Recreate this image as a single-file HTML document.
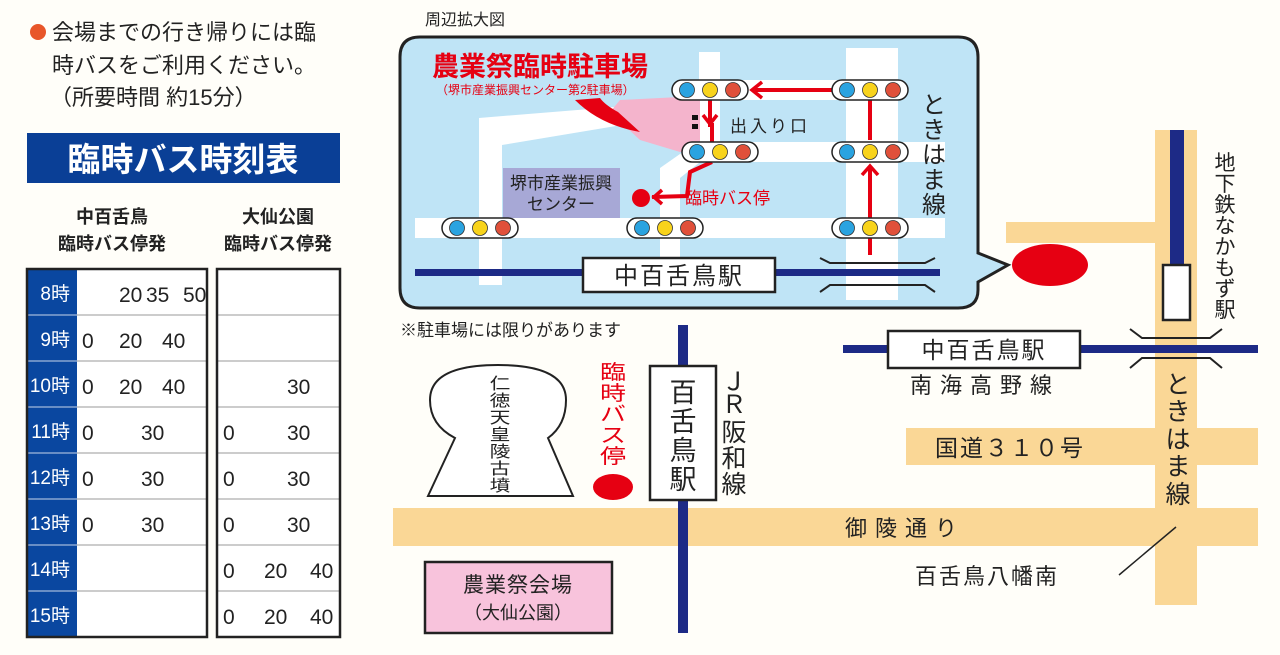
<!DOCTYPE html>
<html><head><meta charset="utf-8"><style>
html,body{margin:0;padding:0;background:#fffef9;}
svg{display:block;font-family:"Liberation Sans","Noto Sans CJK JP",sans-serif;}
</style></head><body>
<svg width="1280" height="655" viewBox="0 0 1280 655" xmlns="http://www.w3.org/2000/svg">
<defs>
<g id="tl">
<rect x="-38" y="-10" width="76" height="20" rx="10" fill="#fff" stroke="#222" stroke-width="1.5"/>
<circle cx="-23" cy="0" r="7.5" fill="#2aa3e0" stroke="#333" stroke-width="0.8"/>
<circle cx="0" cy="0" r="7.5" fill="#f8d31c" stroke="#333" stroke-width="0.8"/>
<circle cx="23" cy="0" r="7.5" fill="#e0503a" stroke="#333" stroke-width="0.8"/>
</g>
</defs>
<rect width="1280" height="655" fill="#fffef9"/>

<circle cx="38" cy="32" r="8" fill="#e8562a"/>
<g font-size="22" fill="#222">
<text x="52" y="40">会場までの行き帰りには臨</text>
<text x="52" y="73">時バスをご利用ください。</text>
<text x="50" y="105">（所要時間 約15分）</text>
</g>
<rect x="27" y="133" width="313" height="50" fill="#0a3f96"/>
<text x="183" y="171" font-size="33" font-weight="bold" fill="#fff" text-anchor="middle">臨時バス時刻表</text>
<g font-size="18" fill="#222" text-anchor="middle" font-weight="bold">
<text x="112" y="223">中百舌鳥</text>
<text x="112" y="250">臨時バス停発</text>
<text x="278" y="223">大仙公園</text>
<text x="278" y="250">臨時バス停発</text>
</g>
<rect x="27" y="269" width="50" height="368" fill="#0a47a0"/>
<rect x="77" y="269" width="130" height="368" fill="#fff"/>
<rect x="217" y="269" width="123" height="368" fill="#fff"/>
<g stroke="#999" stroke-width="1">
<line x1="77" y1="315" x2="207" y2="315"/><line x1="77" y1="361" x2="207" y2="361"/><line x1="77" y1="407" x2="207" y2="407"/><line x1="77" y1="453" x2="207" y2="453"/><line x1="77" y1="499" x2="207" y2="499"/><line x1="77" y1="545" x2="207" y2="545"/><line x1="77" y1="591" x2="207" y2="591"/>
<line x1="217" y1="315" x2="340" y2="315"/><line x1="217" y1="361" x2="340" y2="361"/><line x1="217" y1="407" x2="340" y2="407"/><line x1="217" y1="453" x2="340" y2="453"/><line x1="217" y1="499" x2="340" y2="499"/><line x1="217" y1="545" x2="340" y2="545"/><line x1="217" y1="591" x2="340" y2="591"/>
</g>
<g stroke="#c8d4ea" stroke-width="1">
<line x1="27" y1="315" x2="77" y2="315"/><line x1="27" y1="361" x2="77" y2="361"/><line x1="27" y1="407" x2="77" y2="407"/><line x1="27" y1="453" x2="77" y2="453"/><line x1="27" y1="499" x2="77" y2="499"/><line x1="27" y1="545" x2="77" y2="545"/><line x1="27" y1="591" x2="77" y2="591"/>
</g>
<rect x="27" y="269" width="180" height="368" fill="none" stroke="#222" stroke-width="2.5"/>
<rect x="217" y="269" width="123" height="368" fill="none" stroke="#222" stroke-width="2.5"/>
<g font-size="19" fill="#fff" text-anchor="end">
<text x="70" y="300">8時</text><text x="70" y="346">9時</text><text x="70" y="392">10時</text><text x="70" y="438">11時</text><text x="70" y="484">12時</text><text x="70" y="530">13時</text><text x="70" y="576">14時</text><text x="70" y="622">15時</text>
</g>
<g font-size="21" fill="#222">
<text x="119" y="302">20</text><text x="146" y="302">35</text><text x="183" y="302">50</text>
<text x="82" y="348">0</text><text x="119" y="348">20</text><text x="162" y="348">40</text>
<text x="82" y="394">0</text><text x="119" y="394">20</text><text x="162" y="394">40</text>
<text x="82" y="440">0</text><text x="141" y="440">30</text>
<text x="82" y="486">0</text><text x="141" y="486">30</text>
<text x="82" y="532">0</text><text x="141" y="532">30</text>
<text x="287" y="394">30</text>
<text x="223" y="440">0</text><text x="287" y="440">30</text>
<text x="223" y="486">0</text><text x="287" y="486">30</text>
<text x="223" y="532">0</text><text x="287" y="532">30</text>
<text x="223" y="578">0</text><text x="264" y="578">20</text><text x="310" y="578">40</text>
<text x="223" y="624">0</text><text x="264" y="624">20</text><text x="310" y="624">40</text>
</g>

<text x="425" y="25" font-size="16" fill="#222">周辺拡大図</text>
<path d="M420 37 H958 Q978 37 978 57 V253 L1008 265 L978 282 V290 Q978 308 958 308 H420 Q400 308 400 288 V57 Q400 37 420 37 Z" fill="#bfe4f6" stroke="#222" stroke-width="3"/>
<g fill="#fff">
<rect x="846" y="48" width="52" height="252"/>
<rect x="415" y="218" width="530" height="20"/>
<rect x="700" y="142" width="245" height="20"/>
<rect x="700" y="80" width="200" height="20"/>
<rect x="699" y="52" width="21" height="96"/>
<polygon points="479,132 479,285 502,285 502,145 700,112 700,100 479,118"/>
<polygon points="700,140 660,168 660,285 680,285 680,178 715,150"/>
</g>
<polygon points="620,100 700,96 700,150 680,152 640,140 610,112" fill="#f4b4cc"/>
<path d="M575 100 Q600 125 640 132 L618 112 Q605 105 600 98 Z" fill="#e60012"/>
<rect x="503" y="168" width="117" height="50" fill="#a7a8d6"/>
<text x="561" y="189" font-size="17" fill="#222" text-anchor="middle">堺市産業振興</text>
<text x="561" y="210" font-size="17" fill="#222" text-anchor="middle">センター</text>
<rect x="415" y="269" width="525" height="7" fill="#1d2a86"/>
<g fill="none" stroke="#222" stroke-width="2">
<polyline points="820,258 830,263 925,263 935,258"/>
<polyline points="820,292 830,285 925,285 935,292"/>
</g>
<rect x="583" y="258" width="192" height="34" fill="#fff" stroke="#222" stroke-width="2.5"/>
<text x="679" y="284" font-size="24" fill="#222" text-anchor="middle" letter-spacing="2">中百舌鳥駅</text>
<g stroke="#e60012" stroke-width="4" fill="none">
<line x1="870" y1="255" x2="870" y2="166"/>
<line x1="870" y1="140" x2="870" y2="100"/>
<line x1="835" y1="90" x2="755" y2="90"/>
<polyline points="710,100 710,125 712,125 712,145"/>
<polyline points="712,162 690,172 687,196 652,197"/>
</g>
<g fill="none" stroke="#e60012" stroke-width="3.5">
<polyline points="762,82 752,90 762,98"/>
<polyline points="703,115 710,124 717,115"/>
<polyline points="862,175 870,166 878,175"/>
<polyline points="662,190 654,197 662,204"/>
</g>
<use href="#tl" x="710" y="90"/><use href="#tl" x="870" y="90"/>
<use href="#tl" x="720" y="152"/><use href="#tl" x="870" y="152"/>
<use href="#tl" x="480" y="228"/><use href="#tl" x="665" y="228"/><use href="#tl" x="870" y="228"/>
<rect x="692" y="115" width="6" height="5" fill="#111"/><rect x="692" y="124" width="6" height="5" fill="#111"/>
<text x="730" y="132" font-size="17" fill="#222" letter-spacing="3">出入り口</text>
<circle cx="641" cy="198" r="9" fill="#e60012"/>
<text x="685" y="204" font-size="17" fill="#e60012">臨時バス停</text>
<text x="432" y="76" font-size="27" font-weight="bold" fill="#e60012">農業祭臨時駐車場</text>
<text x="436" y="94" font-size="12" fill="#e60012">（堺市産業振興センター第2駐車場）</text>
<g font-size="24" fill="#222" text-anchor="middle">
<text x="934" y="113">と</text><text x="934" y="138">き</text><text x="934" y="163">は</text><text x="934" y="188">ま</text><text x="934" y="213">線</text>
</g>

<g fill="#fad796">
<rect x="1155" y="130" width="42" height="475"/>
<rect x="1006" y="222" width="150" height="21"/>
<rect x="906" y="428" width="352" height="37"/>
<rect x="393" y="508" width="865" height="38"/>
</g>
<ellipse cx="1050" cy="265" rx="38" ry="21" fill="#e60012"/>
<rect x="1170" y="130" width="14" height="135" fill="#1d2a86"/>
<rect x="1163" y="265" width="27" height="55" fill="#fff" stroke="#222" stroke-width="2.5"/>
<rect x="843" y="345" width="415" height="8" fill="#1d2a86"/>
<g fill="none" stroke="#222" stroke-width="2">
<polyline points="1130,329 1142,338 1210,338 1222,329"/>
<polyline points="1130,368 1142,358 1210,358 1222,368"/>
</g>
<rect x="888" y="331" width="192" height="37" fill="#fff" stroke="#222" stroke-width="2.5"/>
<text x="984" y="358" font-size="23" fill="#222" text-anchor="middle" letter-spacing="2">中百舌鳥駅</text>
<text x="985" y="393" font-size="22" fill="#222" text-anchor="middle" letter-spacing="8">南海高野線</text>
<text x="935" y="456" font-size="23" fill="#222" letter-spacing="2">国道３１０号</text>
<text x="845" y="536" font-size="22" fill="#222" letter-spacing="8">御陵通り</text>
<text x="915" y="584" font-size="22" fill="#222" letter-spacing="2">百舌鳥八幡南</text>
<line x1="1119" y1="575" x2="1176" y2="527" stroke="#222" stroke-width="1.5"/>
<g font-size="25" fill="#222" text-anchor="middle">
<text x="1178" y="393">と</text><text x="1178" y="420">き</text><text x="1178" y="448">は</text><text x="1178" y="475">ま</text><text x="1178" y="503">線</text>
</g>
<g font-size="21" fill="#222" text-anchor="middle">
<text x="1225" y="170">地</text><text x="1225" y="191">下</text><text x="1225" y="212">鉄</text><text x="1225" y="233">な</text><text x="1225" y="254">か</text><text x="1225" y="275">も</text><text x="1225" y="296">ず</text><text x="1225" y="317">駅</text>
</g>

<text x="400" y="336" font-size="17" fill="#222">※駐車場には限りがあります</text>
<rect x="678" y="325" width="10" height="308" fill="#1d2a86"/>
<rect x="650" y="366" width="66" height="134" fill="#fff" stroke="#222" stroke-width="2.5"/>
<g font-size="27" fill="#222" text-anchor="middle">
<text x="683" y="402">百</text><text x="683" y="431">舌</text><text x="683" y="460">鳥</text><text x="683" y="489">駅</text>
</g>
<g font-size="25" fill="#222" text-anchor="middle">
<text x="734" y="390">Ｊ</text><text x="734" y="413">Ｒ</text><text x="734" y="441">阪</text><text x="734" y="467">和</text><text x="734" y="493">線</text>
</g>
<g font-size="20" fill="#e60012" text-anchor="middle" transform="translate(613,0) scale(1.3,1) translate(-613,0)">
<text x="613" y="379">臨</text><text x="613" y="400">時</text><text x="613" y="421">バ</text><text x="613" y="442">ス</text><text x="613" y="463">停</text>
</g>
<ellipse cx="613" cy="487" rx="20" ry="13" fill="#e60012"/>
<path d="M428 496 L455 438 Q430 425 430 400 Q430 365 498 365 Q566 365 566 400 Q566 425 548 438 L573 496 Z" fill="#fff" stroke="#222" stroke-width="2"/>
<g font-size="16" fill="#222" text-anchor="middle" transform="translate(500,0) scale(1.3,1) translate(-500,0)">
<text x="500" y="389">仁</text><text x="500" y="406">徳</text><text x="500" y="423">天</text><text x="500" y="440">皇</text><text x="500" y="457">陵</text><text x="500" y="474">古</text><text x="500" y="491">墳</text>
</g>
<rect x="425" y="562" width="187" height="71" fill="#f8c3dc" stroke="#222" stroke-width="2.5"/>
<text x="518" y="592" font-size="21" fill="#222" text-anchor="middle" letter-spacing="1">農業祭会場</text>
<text x="518" y="619" font-size="18" fill="#222" text-anchor="middle">（大仙公園）</text>
</svg>
</body></html>
